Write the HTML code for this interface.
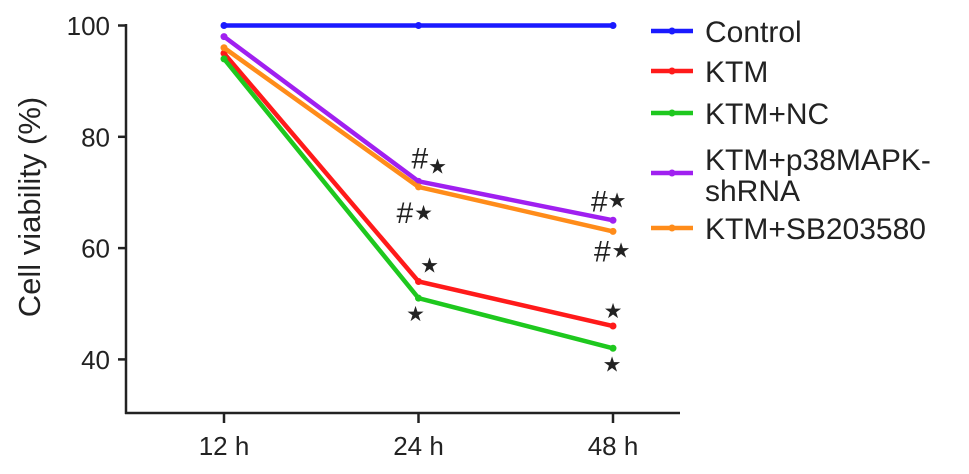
<!DOCTYPE html>
<html><head><meta charset="utf-8"><style>
body{margin:0;background:#fff;}
svg text{font-family:"Liberation Sans",Arial,sans-serif;fill:#222;}
</style></head><body>
<svg id="chart" width="969" height="469">
<g id="axes"></g><g id="series"></g><g id="annots"></g><g id="legend"></g>
</svg>
<script>
const categories = ["12 h","24 h","48 h"];
const seriesNames = ["Control","KTM","KTM+NC","KTM+p38MAPK-shRNA","KTM+SB203580"];
const seriesColors = ["#1a1aff","#ff1a1a","#1ec81e","#a020f0","#ff8c1a"];
const control = [100,100,100];
const ktm = [95,54,46];
const ktmNC = [94,51,42];
const ktmP38 = [98,72,65];
const ktmSB = [96,71,63];
const yTicks = [40,60,80,100];
// annotation: category index, value, hash?, hash offset, star offset
const annotations = [
 {cat:1,val:72,hash:true,hx:-7,hy:-13,sx:19,sy:-15},
 {cat:1,val:71,hash:true,hx:-22,hy:36,sx:5,sy:26},
 {cat:1,val:54,hash:false,sx:11,sy:-16},
 {cat:1,val:51,hash:false,sx:-3,sy:16},
 {cat:2,val:65,hash:true,hx:-22,hy:-9,sx:4,sy:-20},
 {cat:2,val:63,hash:true,hx:-19,hy:30,sx:8,sy:19},
 {cat:2,val:46,hash:false,sx:0,sy:-15},
 {cat:2,val:42,hash:false,sx:-1,sy:16}
];
const NS="http://www.w3.org/2000/svg";
const yScale=v=>25.5+(100-v)*5.565;
const xScale=i=>224+i*194.5;
function mk(tag,attrs,parent){const e=document.createElementNS(NS,tag);for(const k in attrs)e.setAttribute(k,attrs[k]);parent.appendChild(e);return e;}
const axes=document.getElementById('axes');
let l=mk('line',{x1:126,y1:24,x2:126,y2:414,stroke:'#222','stroke-width':2.5},axes);


l=mk('line',{x1:125,y1:413,x2:680,y2:413,stroke:'#222','stroke-width':2.5},axes);


yTicks.forEach(v=>{
 const y=yScale(v);
 mk('line',{x1:118,y1:y,x2:126,y2:y,stroke:'#222','stroke-width':2.5},axes);
 const t=mk('text',{x:110,y:y+9.5,'text-anchor':'end','font-size':26},axes);t.textContent=v;
 
 
});
categories.forEach((c,i)=>{
 const x=xScale(i);
 mk('line',{x1:x,y1:413,x2:x,y2:423,stroke:'#222','stroke-width':2.5},axes);
 const t=mk('text',{x:x,y:455,'text-anchor':'middle','font-size':26},axes);t.textContent=c;
 
 
});
const yt=mk('text',{x:0,y:0,'text-anchor':'middle','font-size':31,transform:'translate(40,207) rotate(-90)'},axes);
yt.textContent="Cell viability (%)";


const data=[control,ktm,ktmNC,ktmP38,ktmSB];
const sg=document.getElementById('series');
data.forEach((d,s)=>{
 const p=mk('polyline',{points:d.map((v,i)=>xScale(i)+','+yScale(v)).join(' '),fill:'none',stroke:seriesColors[s],'stroke-width':4.5},sg);
 
 
 d.forEach((v,i)=>{const c=mk('circle',{cx:xScale(i),cy:yScale(v),r:3.5,fill:seriesColors[s]},sg);
  
  });
});
const ag=document.getElementById('annots');
annotations.forEach(a=>{
 const px=xScale(a.cat),py=yScale(a.val);
 if(a.hash){
  const h=mk('text',{x:px+a.hx,y:py+a.hy,'font-size':30},ag);h.textContent="#";
  
  
 }
 const t=mk('text',{x:px+a.sx,y:py+a.sy+7,'text-anchor':'middle','font-size':21,style:'font-family:"DejaVu Sans",sans-serif'},ag);t.textContent="★";
 
 
});
const lg=document.getElementById('legend');
const ly=[31,71,113,173,228];
seriesNames.forEach((n,s)=>{
 const g=mk('g',{},lg);
 
 
 mk('line',{x1:651,y1:ly[s],x2:693,y2:ly[s],stroke:seriesColors[s],'stroke-width':4.5},g);
 mk('circle',{cx:672,cy:ly[s],r:3.5,fill:seriesColors[s]},g);
 if(s===3){
  let t=mk('text',{x:705,y:ly[s]-3,'font-size':30},g);t.textContent="KTM+p38MAPK-";
  t=mk('text',{x:705,y:ly[s]+28,'font-size':30},g);t.textContent="shRNA";
 } else {const t=mk('text',{x:705,y:ly[s]+11,'font-size':30},g);t.textContent=n;}
});
</script>
</body></html>
